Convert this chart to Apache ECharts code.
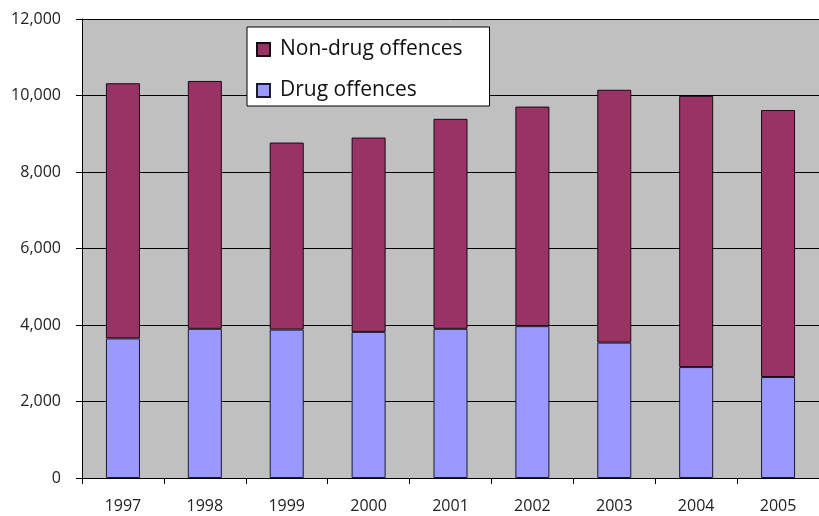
<!DOCTYPE html>
<html>
<head>
<meta charset="utf-8">
<script src="https://cdn.jsdelivr.net/npm/echarts@6/dist/echarts.min.js"></script>
<style>
  html, body { margin: 0; padding: 0; background: #fff; }
  #chart { width: 819px; height: 516px; }
</style>
</head>
<body>
<div id="chart"></div>
<script>
// 年份
var years = ['1997', '1998', '1999', '2000', '2001', '2002', '2003', '2004', '2005'];
// 毒品犯罪
var drugOffences = [3650, 3900, 3880, 3820, 3900, 3970, 3540, 2900, 2640];
// 非毒品犯罪
var nonDrugOffences = [6670, 6480, 4890, 5080, 5490, 5740, 6610, 7090, 6980];

var FONT = '"Open Sans", "Noto Sans", sans-serif';

var chart = echarts.init(document.getElementById('chart'));
chart.setOption({
    animation: false,
    backgroundColor: '#ffffff',
    grid: {
        show: true,
        left: 82,
        top: 19,
        width: 747,
        height: 459,
        backgroundColor: '#c0c0c0',
        borderWidth: 0
    },
    legend: {
        orient: 'vertical',
        left: 247,
        top: 27,
        data: ['Non-drug offences', 'Drug offences'],
        backgroundColor: '#ffffff',
        borderColor: '#000000',
        borderWidth: 1,
        borderRadius: 0,
        padding: [12, 27, 5, 9],
        itemWidth: 13,
        itemHeight: 13,
        itemGap: 20,
        icon: 'rect',
        textStyle: {
            fontFamily: FONT,
            fontSize: 21,
            color: '#111',
            padding: [0, 0, 0, 5]
        }
    },
    xAxis: {
        type: 'category',
        data: years,
        boundaryGap: true,
        axisLine: { lineStyle: { color: '#000', width: 1 } },
        axisTick: { show: true, length: 6, lineStyle: { color: '#000' } },
        axisLabel: {
            margin: 20,
            fontFamily: FONT,
            fontSize: 16,
            color: '#222'
        }
    },
    yAxis: {
        type: 'value',
        min: 0,
        max: 12000,
        interval: 2000,
        axisLine: { show: true, lineStyle: { color: '#000', width: 1 } },
        axisTick: { show: true, length: 6, lineStyle: { color: '#000' } },
        splitLine: { show: true, lineStyle: { color: '#000', width: 1 } },
        axisLabel: {
            margin: 21,
            fontFamily: FONT,
            fontSize: 16,
            color: '#222',
            formatter: function (v) {
                return v.toLocaleString('en-US');
            }
        }
    },
    series: [{
        name: 'Drug offences',
        type: 'bar',
        stack: 'total',
        barWidth: 34,
        data: drugOffences,
        itemStyle: {
            color: '#9999ff',
            borderColor: '#1a1a33',
            borderWidth: 1
        }
    }, {
        name: 'Non-drug offences',
        type: 'bar',
        stack: 'total',
        barWidth: 34,
        data: nonDrugOffences,
        itemStyle: {
            color: '#993366',
            borderColor: '#1a0a14',
            borderWidth: 1
        }
    }]
});
</script>
</body>
</html>
